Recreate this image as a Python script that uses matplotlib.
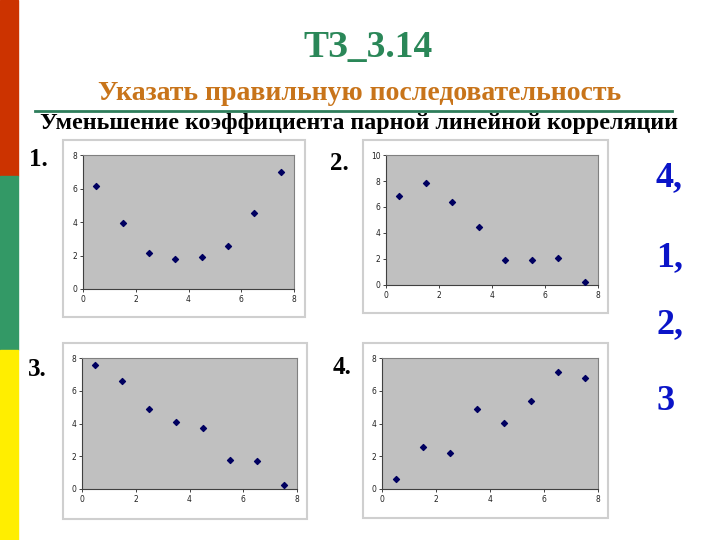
import matplotlib
matplotlib.use("Agg")
import matplotlib.pyplot as plt
from matplotlib.patches import Rectangle
from matplotlib.lines import Line2D

# ---- data ----
x_vals = [0.5, 1.5, 2.5, 3.5, 4.5, 5.5, 6.5, 7.5]
y_chart1 = [6.17, 3.97, 2.16, 1.79, 1.92, 2.58, 4.54, 6.98]
y_chart2 = [6.86, 7.83, 6.40, 4.49, 1.96, 1.96, 2.06, 0.20]
y_chart3 = [7.55, 6.62, 4.91, 4.07, 3.71, 1.77, 1.69, 0.22]
y_chart4 = [0.61, 2.55, 2.22, 4.87, 4.01, 5.40, 7.15, 6.76]
y_max = [8, 10, 8, 8]
x_ticks = [0, 2, 4, 6, 8]
chart_labels = ["1.", "2.", "3.", "4."]
answer = ["4,", "1,", "2,", "3"]

title = "ТЗ_3.14"
subtitle = "Указать правильную последовательность"
line3 = "Уменьшение коэффициента парной линейной корреляции"

W, H = 720, 540
fig = plt.figure(figsize=(7.2, 5.4), dpi=100)
fig.patch.set_facecolor("white")

def fr(x0, y0, x1, y1):
    return [x0 / W, 1 - y1 / H, (x1 - x0) / W, (y1 - y0) / H]

# left colour bar
for (y0, y1, c) in [(0, 176, "#CC3300"), (176, 350, "#339966"), (350, 540, "#FFEE00")]:
    fig.patches.append(Rectangle((0, 1 - y1 / H), 18 / W, (y1 - y0) / H,
                                 transform=fig.transFigure, color=c, zorder=0))

serif = ["Liberation Serif", "DejaVu Serif"]
fig.text(368 / W, 1 - 47 / H, title, ha="center", va="center", fontsize=27,
         color="#2A8758", family=serif, fontweight="bold")
fig.text(360 / W, 1 - 93 / H, subtitle, ha="center", va="center", fontsize=20,
         color="#C8741A", family=serif, fontweight="bold")
fig.lines.append(Line2D([35 / W, 672 / W], [1 - 111 / H, 1 - 111 / H],
                        transform=fig.transFigure, color="#2E7D5B", lw=2))
fig.text(359 / W, 1 - 124 / H, line3, ha="center", va="center", fontsize=17.3,
         color="black", family=serif, fontweight="bold")

frames = [(63, 140, 305, 317), (363, 140, 608, 313), (63, 343, 307, 519), (363, 343, 608, 518)]
plots = [(83, 155, 294, 289), (386, 155, 598, 285), (82, 358, 297, 489), (382, 358, 598, 489)]
label_pos = [(38, 160), (339, 163), (37, 370), (342, 368)]
series = [y_chart1, y_chart2, y_chart3, y_chart4]

for i in range(4):
    fx0, fy0, fx1, fy1 = frames[i]
    fig.patches.append(Rectangle((fx0 / W, 1 - fy1 / H), (fx1 - fx0) / W, (fy1 - fy0) / H,
                                 transform=fig.transFigure, facecolor="white",
                                 edgecolor="#CFCFCF", lw=1.5, zorder=0.5))
    ax = fig.add_axes(fr(*plots[i]))
    ax.set_zorder(2)
    ax.set_facecolor("#C0C0C0")
    ax.scatter(x_vals, series[i], marker="D", s=9, color="#000060", zorder=3)
    ax.set_xlim(0, 8)
    ax.set_ylim(0, y_max[i])
    ax.set_xticks(x_ticks)
    ax.set_yticks(list(range(0, y_max[i] + 1, 2)))
    ax.tick_params(labelsize=5.5, length=2, width=0.6, pad=2, colors="#222222")
    for s in ax.spines.values():
        s.set_color("#808080")
        s.set_linewidth(0.8)
    ax.spines["left"].set_color("#404040")
    ax.spines["bottom"].set_color("#404040")
    lx, ly = label_pos[i]
    fig.text(lx / W, 1 - ly / H, chart_labels[i], ha="center", va="center", fontsize=18,
             family=serif, fontweight="bold", color="black")

for j, (a, yy) in enumerate(zip(answer, [178, 258, 325, 402])):
    fig.text(656 / W, 1 - yy / H, a, ha="left", va="center", fontsize=26,
             family=serif, fontweight="bold", color="#0A14C8")

fig.savefig("out.png", dpi=100)
